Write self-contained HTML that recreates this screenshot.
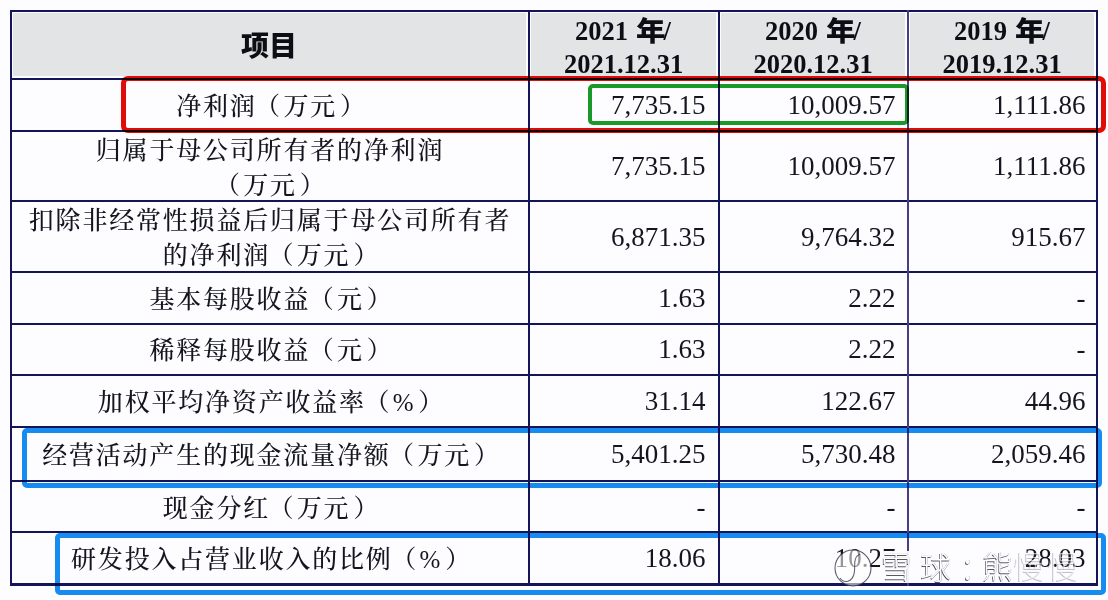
<!DOCTYPE html>
<html><head><meta charset="utf-8"><style>
*{margin:0;padding:0;box-sizing:border-box}
html,body{width:1108px;height:600px;overflow:hidden;background:#fdfdff}
body{position:relative}
.hl{position:absolute;height:2px;background:#141458}
.vl{position:absolute;width:2px;background:#141458}
.g{position:absolute;background:#e3e4e6}
.t{position:absolute;white-space:nowrap;color:#15151f}
.cn{font-family:"Liberation Serif","Noto Serif CJK SC",serif;font-weight:500;font-size:25px;letter-spacing:1.8px;line-height:35px;text-align:center}
.num{font-family:"Liberation Serif",serif;font-size:27px;line-height:35px;text-align:right}
.hd{font-family:"Liberation Serif",serif;font-weight:bold;font-size:26.5px;line-height:32px;color:#0d0d15}
.nian{font-family:"Noto Sans CJK SC",sans-serif;font-weight:900;font-size:27px;line-height:36px;color:#0d0d15;transform:scaleX(1.1);transform-origin:0 0}
.hx{font-family:"Noto Sans CJK SC",sans-serif;font-weight:900;font-size:28px;text-align:center;color:#0d0d15}
.box{position:absolute;border-style:solid;mix-blend-mode:multiply}
.lp{position:relative;left:-1.5px}
.rp{position:relative;left:3px}
.wm{position:absolute;white-space:nowrap;font-family:"Noto Sans CJK SC",sans-serif;font-size:30.5px;font-weight:300;line-height:40px;color:#fff;text-shadow:-0.7px 0.7px 0.4px rgba(30,30,50,0.75),0.6px -0.4px 0.5px rgba(30,30,50,0.35)}
</style></head>
<body>
<div class="g" style="left:13px;top:13px;width:513px;height:63px"></div>
<div class="g" style="left:531px;top:13px;width:185px;height:63px"></div>
<div class="g" style="left:721px;top:13px;width:184px;height:63px"></div>
<div class="g" style="left:910px;top:13px;width:184px;height:63px"></div>
<div class="hl" style="left:10px;top:10px;width:1088px"></div>
<div class="hl" style="left:10px;top:78px;width:1088px"></div>
<div class="hl" style="left:10px;top:130px;width:1088px"></div>
<div class="hl" style="left:10px;top:200px;width:1088px"></div>
<div class="hl" style="left:10px;top:271px;width:1088px"></div>
<div class="hl" style="left:10px;top:322.5px;width:1088px"></div>
<div class="hl" style="left:10px;top:374px;width:1088px"></div>
<div class="hl" style="left:10px;top:426px;width:1088px"></div>
<div class="hl" style="left:10px;top:480px;width:1088px"></div>
<div class="hl" style="left:10px;top:531px;width:1088px"></div>
<div class="hl" style="left:10px;top:583px;width:1088px;height:2.5px"></div>
<div class="vl" style="left:10px;top:10px;height:575.5px"></div>
<div class="vl" style="left:528px;top:10px;height:575.5px"></div>
<div class="vl" style="left:718px;top:10px;height:575.5px"></div>
<div class="vl" style="left:907px;top:10px;height:575.5px;background:#463f86"></div>
<div class="vl" style="left:1096px;top:10px;height:575.5px"></div>
<div class="t hx" style="left:10px;width:518px;top:24px;line-height:40px">项目</div>
<div class="t hd" style="left:575px;top:15px">2021</div>
<div class="t nian" style="left:635.5px;top:12px">年</div>
<div class="t hd" style="left:663.5px;top:15px">/</div>
<div class="t hd" style="left:528px;width:191px;top:47.5px;text-align:center">2021.12.31</div>
<div class="t hd" style="left:765px;top:15px">2020</div>
<div class="t nian" style="left:825.5px;top:12px">年</div>
<div class="t hd" style="left:853.5px;top:15px">/</div>
<div class="t hd" style="left:718px;width:190px;top:47.5px;text-align:center">2020.12.31</div>
<div class="t hd" style="left:954px;top:15px">2019</div>
<div class="t nian" style="left:1014.5px;top:12px">年</div>
<div class="t hd" style="left:1042.5px;top:15px">/</div>
<div class="t hd" style="left:907px;width:190px;top:47.5px;text-align:center">2019.12.31</div>
<div class="t cn" style="left:12px;width:516px;top:89.0px">净利润<span class="lp">（</span>万元<span class="rp">）</span></div>
<div class="t num" style="left:528px;width:177.5px;top:88.0px">7,735.15</div>
<div class="t num" style="left:718px;width:177.5px;top:88.0px">10,009.57</div>
<div class="t num" style="left:907px;width:178.5px;top:88.0px">1,111.86</div>
<div class="t cn" style="left:12px;width:516px;top:132.5px">归属于母公司所有者的净利润<br><span class="lp">（</span>万元<span class="rp">）</span></div>
<div class="t num" style="left:528px;width:177.5px;top:149.0px">7,735.15</div>
<div class="t num" style="left:718px;width:177.5px;top:149.0px">10,009.57</div>
<div class="t num" style="left:907px;width:178.5px;top:149.0px">1,111.86</div>
<div class="t cn" style="left:12px;width:516px;top:203.0px">扣除非经常性损益后归属于母公司所有者<br>的净利润<span class="lp">（</span>万元<span class="rp">）</span></div>
<div class="t num" style="left:528px;width:177.5px;top:219.5px">6,871.35</div>
<div class="t num" style="left:718px;width:177.5px;top:219.5px">9,764.32</div>
<div class="t num" style="left:907px;width:178.5px;top:219.5px">915.67</div>
<div class="t cn" style="left:12px;width:516px;top:281.8px">基本每股收益<span class="lp">（</span>元<span class="rp">）</span></div>
<div class="t num" style="left:528px;width:177.5px;top:280.8px">1.63</div>
<div class="t num" style="left:718px;width:177.5px;top:280.8px">2.22</div>
<div class="t num" style="left:907px;width:178.5px;top:280.8px">-</div>
<div class="t cn" style="left:12px;width:516px;top:333.2px">稀释每股收益<span class="lp">（</span>元<span class="rp">）</span></div>
<div class="t num" style="left:528px;width:177.5px;top:332.2px">1.63</div>
<div class="t num" style="left:718px;width:177.5px;top:332.2px">2.22</div>
<div class="t num" style="left:907px;width:178.5px;top:332.2px">-</div>
<div class="t cn" style="left:12px;width:516px;top:385.0px">加权平均净资产收益率<span class="lp">（</span>%<span class="rp">）</span></div>
<div class="t num" style="left:528px;width:177.5px;top:384.0px">31.14</div>
<div class="t num" style="left:718px;width:177.5px;top:384.0px">122.67</div>
<div class="t num" style="left:907px;width:178.5px;top:384.0px">44.96</div>
<div class="t cn" style="left:12px;width:516px;top:438.0px">经营活动产生的现金流量净额<span class="lp">（</span>万元<span class="rp">）</span></div>
<div class="t num" style="left:528px;width:177.5px;top:437.0px">5,401.25</div>
<div class="t num" style="left:718px;width:177.5px;top:437.0px">5,730.48</div>
<div class="t num" style="left:907px;width:178.5px;top:437.0px">2,059.46</div>
<div class="t cn" style="left:12px;width:516px;top:490.5px">现金分红<span class="lp">（</span>万元<span class="rp">）</span></div>
<div class="t num" style="left:528px;width:177.5px;top:489.5px">-</div>
<div class="t num" style="left:718px;width:177.5px;top:489.5px">-</div>
<div class="t num" style="left:907px;width:178.5px;top:489.5px">-</div>
<div class="t cn" style="left:12px;width:516px;top:542.0px">研发投入占营业收入的比例<span class="lp">（</span>%<span class="rp">）</span></div>
<div class="t num" style="left:528px;width:177.5px;top:541.0px">18.06</div>
<div class="t num" style="left:718px;width:177.5px;top:541.0px">10.27</div>
<div class="t num" style="left:907px;width:178.5px;top:541.0px">28.03</div>
<div class="box" style="left:121px;top:76px;width:985px;height:57px;border-width:5.2px;border-color:#e20c08;border-radius:7px"></div>
<div class="box" style="left:588px;top:84px;width:321px;height:41px;border-width:4.8px;border-color:#1a9a2a;border-radius:5px"></div>
<div class="box" style="left:21.5px;top:428px;width:1080.5px;height:60px;border-width:5px;border-color:#168cf0;border-radius:5px"></div>
<div class="box" style="left:54.5px;top:532.5px;width:1051px;height:62px;border-width:5px;border-color:#168cf0;border-radius:5px"></div>
<svg style="position:absolute;left:830px;top:544px" width="50" height="50" viewBox="0 0 50 50"><circle cx="23" cy="24" r="18" fill="rgba(255,255,255,0.55)" stroke="rgba(40,40,60,0.75)" stroke-width="1.1"/><path d="M10 34 C 14 40, 22 38, 24 30 C 26 22, 22 14, 30 10" fill="none" stroke="rgba(40,40,60,0.7)" stroke-width="1.1"/></svg>
<div style="position:absolute;left:880px;top:551px;width:33px;height:31.5px;background:rgba(253,253,255,0.93)"></div>
<div class="wm" style="left:881px;top:544.5px;text-shadow:-0.7px 0.7px 0.4px rgba(30,30,50,0.75),0.6px -0.4px 0.5px rgba(30,30,50,0.35),0 0 2px #fff,0 0 2px #fff,0 0 3px #fff,0 0 3px #fff">雪</div>
<div class="wm" style="left:920.5px;top:545.5px">球</div>
<div class="wm" style="left:960px;top:545.5px">：</div>
<div class="wm" style="left:982px;top:545px">熊</div>
<div class="wm" style="left:1013.5px;top:545px;color:rgba(255,255,255,0.6);text-shadow:-0.7px 0.7px 0.3px rgba(40,40,60,0.28)">慢</div>
<div class="wm" style="left:1047.5px;top:545px;color:rgba(255,255,255,0.6);text-shadow:-0.7px 0.7px 0.3px rgba(40,40,60,0.28)">慢</div>
</body></html>
